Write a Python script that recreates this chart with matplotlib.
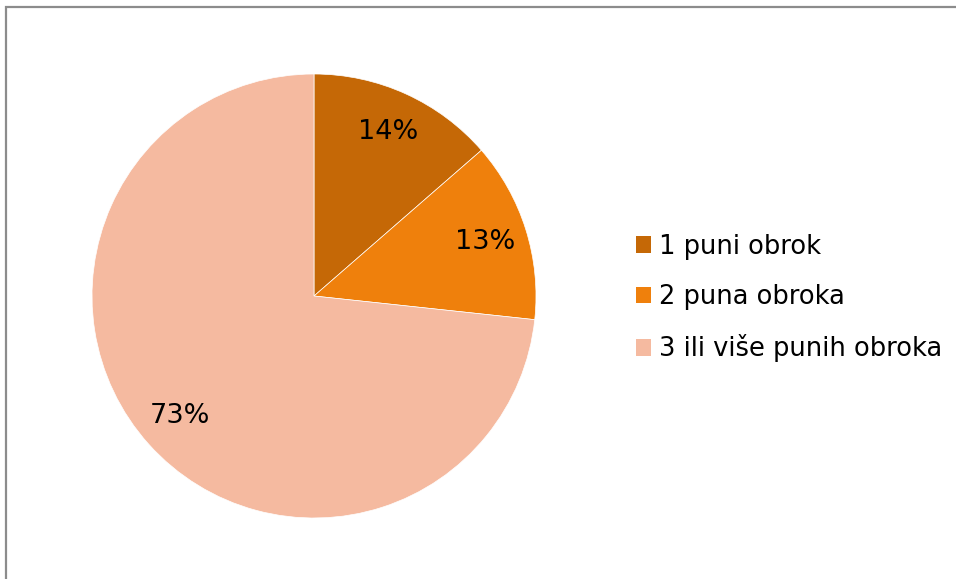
import matplotlib
matplotlib.use("Agg")
import matplotlib.pyplot as plt
from matplotlib.patches import Rectangle, Patch

# udjeli po broju punih obroka (procitano s grafa)
categories = ["1 puni obrok", "2 puna obroka", "3 ili više punih obroka"]
shares = [13.6, 13.1, 73.3]
pct_labels = ["14%", "13%", "73%"]
colors = ["#C56806", "#EF800C", "#F5BAA0"]

W, H = 956, 579
fig = plt.figure(figsize=(W / 100, H / 100), dpi=100)

# okvir oko grafa (desni i donji rub izlaze van slike)
fig.patches.append(Rectangle((6 / W, -0.05), 1.0, 1 - 7 / H + 0.05,
                             transform=fig.transFigure, fill=False,
                             edgecolor="#8C8C8C", linewidth=1.6))

cx, cy, r = 314, 296, 222
ax = fig.add_axes([(cx - r) / W, (H - cy - r) / H, 2 * r / W, 2 * r / H])
wedges, texts = ax.pie(shares, colors=colors, startangle=90, counterclock=False,
                       labels=pct_labels, labeldistance=0.81,
                       wedgeprops=dict(linewidth=0.5, edgecolor="white"),
                       textprops=dict(fontsize=19.5, color="black"))
for t in texts:
    t.set_horizontalalignment("center")
    t.set_verticalalignment("center")
ax.set_xlim(-1, 1)
ax.set_ylim(-1, 1)
ax.set_aspect("equal")
ax.axis("off")

handles = [Patch(facecolor=c, edgecolor="none") for c in colors]
fig.legend(handles, categories, loc="center left",
           bbox_to_anchor=(636 / W, (H - 298) / H), frameon=False,
           fontsize=18.5, handlelength=0.6, handleheight=0.6,
           handletextpad=0.3, labelspacing=0.95, borderaxespad=0,
           borderpad=0)

fig.savefig("out.png", dpi=100)
